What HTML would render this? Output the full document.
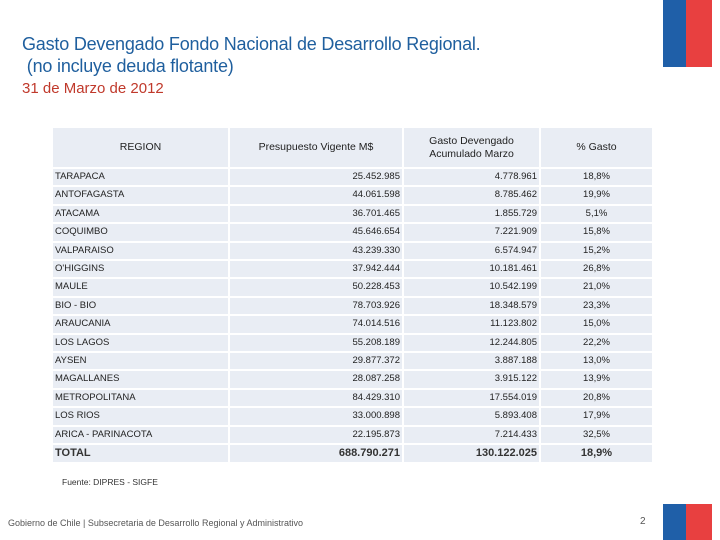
<!DOCTYPE html>
<html><head><meta charset="utf-8"><style>
body{margin:0;width:720px;height:540px;background:#fff;position:relative;overflow:hidden;font-family:"Liberation Sans",sans-serif}
.abs{position:absolute}
.t1{left:22px;top:33px;font-size:18px;color:#1f5f9e;line-height:22px;white-space:pre;letter-spacing:-0.2px}
.t2{left:22px;top:80px;font-size:15px;color:#c0392b}
table{position:absolute;left:53px;top:128px;border-collapse:separate;border-spacing:2px 2px;margin:-2px;font-size:9.5px;color:#222}
td{background:#e9edf4;padding:0 2px;height:16.4px;line-height:16.4px;white-space:nowrap}
th{background:#e9edf4;font-weight:normal;font-size:10.5px;height:37px;line-height:13px}
.r{text-align:right}.c{text-align:center}
tr.tot td{font-size:11px;font-weight:bold;color:#333}
</style></head><body>
<div class="abs t1">Gasto Devengado Fondo Nacional de Desarrollo Regional.
 (no incluye deuda flotante)</div>
<div class="abs t2">31 de Marzo de 2012</div>
<div class="abs" style="left:663px;top:0;width:23px;height:67px;background:#1f5fa8"></div>
<div class="abs" style="left:686px;top:0;width:26px;height:67px;background:#e84040"></div>
<table>
<tr><th style="width:173px">REGION</th><th style="width:170px">Presupuesto Vigente M$</th><th style="width:133px">Gasto Devengado<br>Acumulado Marzo</th><th style="width:109px">% Gasto</th></tr>
<tbody id="tb"></tbody>
</table>
<div class="abs" style="left:62px;top:477px;font-size:8.5px;color:#333">Fuente: DIPRES - SIGFE</div>
<div class="abs" style="left:8px;top:518px;font-size:9px;color:#555">Gobierno de Chile | Subsecretaria de Desarrollo Regional y Administrativo</div>
<div class="abs" style="left:640px;top:516px;font-size:10px;color:#555">2</div>
<div class="abs" style="left:663px;top:504px;width:23px;height:36px;background:#1f5fa8"></div>
<div class="abs" style="left:686px;top:504px;width:26px;height:36px;background:#e84040"></div>
<script>
const regions=["TARAPACA","ANTOFAGASTA","ATACAMA","COQUIMBO","VALPARAISO","O'HIGGINS","MAULE","BIO - BIO","ARAUCANIA","LOS LAGOS","AYSEN","MAGALLANES","METROPOLITANA","LOS RIOS","ARICA - PARINACOTA","TOTAL"];
const budget=["25.452.985","44.061.598","36.701.465","45.646.654","43.239.330","37.942.444","50.228.453","78.703.926","74.014.516","55.208.189","29.877.372","28.087.258","84.429.310","33.000.898","22.195.873","688.790.271"];
const spent=["4.778.961","8.785.462","1.855.729","7.221.909","6.574.947","10.181.461","10.542.199","18.348.579","11.123.802","12.244.805","3.887.188","3.915.122","17.554.019","5.893.408","7.214.433","130.122.025"];
const pct=["18,8%","19,9%","5,1%","15,8%","15,2%","26,8%","21,0%","23,3%","15,0%","22,2%","13,0%","13,9%","20,8%","17,9%","32,5%","18,9%"];
const tb=document.getElementById('tb');
regions.forEach((r,i)=>{
 const tr=document.createElement('tr');
 
 
 if(r==="TOTAL")tr.className='tot';
 tr.innerHTML='<td>'+r+'</td><td class="r">'+budget[i]+'</td><td class="r">'+spent[i]+'</td><td class="c">'+pct[i]+'</td>';
 tb.appendChild(tr);
});
</script>
</body></html>
